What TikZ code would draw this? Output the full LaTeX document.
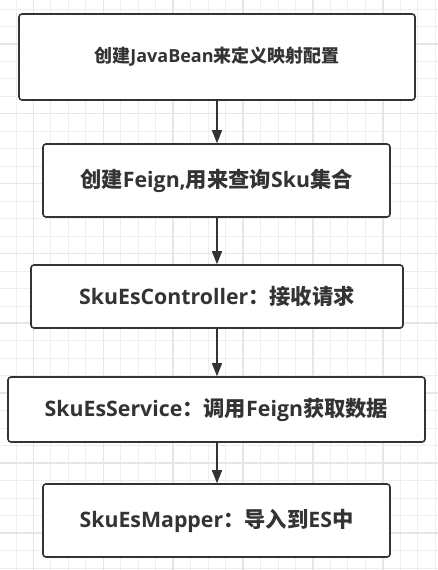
\documentclass[tikz,border=0pt]{standalone}
\usepackage{fontspec}
\setmainfont{Open Sans}
\newfontfamily\cjk{Noto Sans CJK SC}
\usetikzlibrary{arrows.meta}
\definecolor{ink}{HTML}{333333}
\definecolor{gridminor}{HTML}{EEEEEE}
\definecolor{gridmajor}{HTML}{E6E6E6}
\newcommand{\zh}[1]{{\cjk\bfseries #1}}
\tikzset{
  flowbox/.style={draw=ink, line width=1.6pt, rounded corners=3pt, fill=white,
    text=ink, font=\bfseries, inner sep=0pt, align=center},
  flowarrow/.style={draw=ink, line width=1.4pt, -{Triangle[width=10pt,length=13pt]}},
}
\begin{document}
\begin{tikzpicture}[x=1pt,y=-1pt]
\useasboundingbox (0,0) rectangle (438,570);
\fill[white] (0,0) rectangle (438,570);
% grid
\foreach \i in {0,...,25} {
  \pgfmathsetmacro{\gx}{-1.47+17.47*\i}
  \draw[gridminor, line width=0.9pt] (\gx,0) -- (\gx,570);
}
\foreach \i in {0,...,33} {
  \pgfmathsetmacro{\gy}{9-17.47+17.47*\i}
  \draw[gridminor, line width=0.9pt] (0,\gy) -- (438,\gy);
}
\foreach \i in {0,...,5} {
  \pgfmathsetmacro{\gx}{33.5+69.88*\i}
  \draw[gridmajor, line width=1.6pt] (\gx,0) -- (\gx,570);
}
\foreach \i in {0,...,7} {
  \pgfmathsetmacro{\gy}{43.7+69.88*\i}
  \draw[gridmajor, line width=1.6pt] (0,\gy) -- (438,\gy);
}
% boxes
\node[flowbox, minimum width=396pt, minimum height=86pt, font=\bfseries\fontsize{18}{21}\selectfont]
  (b1) at (217,57) {\zh{创建}JavaBean\zh{来定义映射配置}};
\node[flowbox, minimum width=347pt, minimum height=73pt, font=\bfseries\fontsize{21.3}{25}\selectfont]
  (b2) at (216.5,180.5) {\zh{创建}Feign,\zh{用来查询}Sku\zh{集合}};
\node[flowbox, minimum width=372pt, minimum height=63pt, font=\bfseries\fontsize{21.3}{25}\selectfont]
  (b3) at (217,296.5) {SkuEsController\zh{：接收请求}};
\node[flowbox, minimum width=417pt, minimum height=65pt, font=\bfseries\fontsize{21.3}{25}\selectfont]
  (b4) at (216.5,409.5) {SkuEsService\zh{：调用}Feign\zh{获取数据}};
\node[flowbox, minimum width=347pt, minimum height=73pt, font=\bfseries\fontsize{21.3}{25}\selectfont]
  (b5) at (216.5,520.5) {SkuEsMapper\zh{：导入到}ES\zh{中}};
% arrows
\draw[flowarrow] (b1.south -| 217,0) -- (b2.north -| 217,0);
\draw[flowarrow] (b2.south -| 217,0) -- (b3.north -| 217,0);
\draw[flowarrow] (b3.south -| 217,0) -- (b4.north -| 217,0);
\draw[flowarrow] (b4.south -| 217,0) -- (b5.north -| 217,0);
\end{tikzpicture}
\end{document}
